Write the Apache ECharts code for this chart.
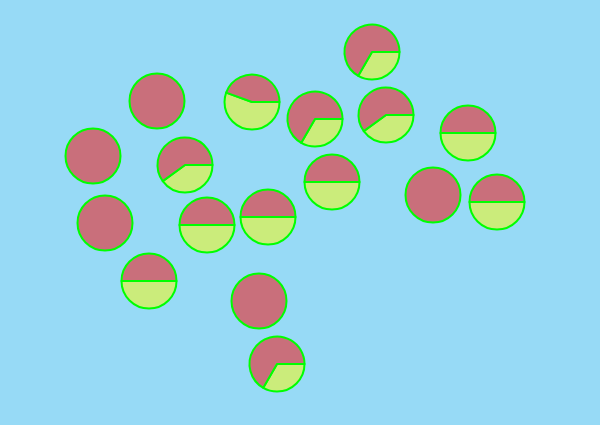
<!DOCTYPE html>
<html>
<head>
<meta charset="utf-8">
<script src="https://cdn.jsdelivr.net/npm/echarts@6/dist/echarts.min.js"></script>
<style>
  html, body { margin: 0; padding: 0; background: #97daf6; }
  #main { width: 600px; height: 425px; }
</style>
</head>
<body>
<div id="main"></div>
<script>
// pie positions (axis units) and the two slice counts of each pie
var xVals = [15.7, 9.3, 10.5, 14.9, 18.5, 20.7, 25.2, 26.8, 25.9, 27.7, 31.5, 33.2, 37.2, 38.6, 46.8, 43.3, 49.7];
var yVals = [32.4, 26.9, 20.2, 14.4, 26.0, 20.0, 32.3, 20.8, 12.4, 6.1, 30.6, 24.3, 37.3, 31.0, 29.2, 23.0, 22.3];
var yellowVals = [0, 0, 0, 1, 2, 1, 5, 1, 0, 1, 1, 1, 1, 2, 1, 0, 1];
var redVals = [3, 3, 3, 1, 3, 1, 4, 1, 3, 2, 2, 1, 2, 3, 1, 3, 1];

var myChart = echarts.init(document.getElementById('main'));

var option = {
  backgroundColor: '#97daf6',
  animation: false,
  grid: { left: 0, right: 0, top: 0, bottom: 0 },
  xAxis: { type: 'value', min: 0, max: 60, show: false },
  yAxis: { type: 'value', min: 0, max: 42.5, show: false },
  series: [
    { type: 'scatter', data: [], symbolSize: 0 }
  ]
};
myChart.setOption(option);

var pies = [];
for (var i = 0; i < xVals.length; i++) {
  var c = myChart.convertToPixel({ gridIndex: 0 }, [xVals[i], yVals[i]]);
  var d = [];
  if (yellowVals[i] > 0) d.push({ value: yellowVals[i], itemStyle: { color: '#cbec7b' } });
  if (redVals[i] > 0) d.push({ value: redVals[i], itemStyle: { color: '#c96f7b' } });
  pies.push({
    type: 'pie',
    center: c,
    radius: 27.5,
    startAngle: 0,
    clockwise: true,
    silent: true,
    label: { show: false },
    labelLine: { show: false },
    emphasis: { disabled: true },
    itemStyle: { borderColor: '#00ff00', borderWidth: 2 },
    data: d
  });
}
myChart.setOption({ series: [{ type: 'scatter', data: [], symbolSize: 0 }].concat(pies) });
</script>
</body>
</html>
